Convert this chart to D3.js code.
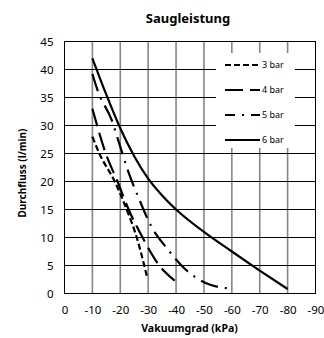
<!DOCTYPE html>
<html>
<head>
<meta charset="utf-8">
<script src="https://cdn.jsdelivr.net/npm/d3@7"></script>
<style>
  body { margin: 0; background: #fff; }
  text { font-family: "Noto Sans", sans-serif; fill: #000; }
</style>
</head>
<body>
<script>
// data: [vacuum kPa, flow l/min]
const xTicks = [0, -10, -20, -30, -40, -50, -60, -70, -80, -90];
const yTicks = [0, 5, 10, 15, 20, 25, 30, 35, 40, 45];
const seriesNames = ["3 bar", "4 bar", "5 bar", "6 bar"];
const bar3 = [[-10, 28], [-12.5, 25], [-18, 20], [-22.3, 15], [-25.9, 10], [-28.6, 5], [-29.7, 2.7]];
const bar4 = [[-10, 33], [-14.8, 25], [-19, 20], [-23, 15], [-28, 10], [-34, 5], [-39.5, 2.3]];
const bar5 = [[-10, 39.2], [-12.2, 35.8], [-16.9, 31], [-19.5, 27], [-23, 21.6], [-26.8, 16.8],
    [-31, 12.1], [-37, 7.9], [-43.6, 4.2], [-52, 1.6], [-59, 0.9]];
const bar6 = [[-10, 42], [-15, 35.5], [-20, 29.5], [-25, 24.5], [-30, 20.5], [-35, 17.5], [-40, 15],
    [-50, 11], [-60, 7.5], [-70, 4.1], [-80, 0.8]];

window.onload = function () {
    const width = 324, height = 338;
    const margin = {top: 41.5, right: 8.5, bottom: 44.5, left: 64.5};

    const svg = d3.select("body").append("svg")
        .attr("width", width)
        .attr("height", height);

    const x = d3.scaleLinear()
        .domain([0, -90])
        .range([margin.left, width - margin.right]);

    const y = d3.scaleLinear()
        .domain([0, 45])
        .range([height - margin.bottom, margin.top]);

    // vertical grid (gray)
    svg.append("g")
        .selectAll("line")
        .data(xTicks.slice(1, -1))
        .join("line")
        .attr("x1", d => x(d)).attr("x2", d => x(d))
        .attr("y1", y(0)).attr("y2", y(45))
        .attr("stroke", "#868686")
        .attr("stroke-width", 1.6);

    // horizontal grid (black)
    svg.append("g")
        .selectAll("line")
        .data(yTicks.slice(1, -1))
        .join("line")
        .attr("x1", x(0)).attr("x2", x(-90))
        .attr("y1", d => y(d)).attr("y2", d => y(d))
        .attr("stroke", "#000")
        .attr("stroke-width", 1);

    svg.append("rect")
        .attr("x", x(0)).attr("y", y(45))
        .attr("width", x(-90) - x(0))
        .attr("height", y(0) - y(45))
        .attr("fill", "none")
        .attr("stroke", "#000")
        .attr("stroke-width", 1);

    // axes labels
    const yAxis = svg.append("g")
        .attr("transform", `translate(${x(0)},0)`)
        .call(d3.axisLeft(y).tickValues(yTicks).tickSize(0).tickPadding(11));
    yAxis.select(".domain").remove();
    yAxis.selectAll("text")
        .style("font-size", "11.5px")
        .style("font-family", "Noto Sans");

    const xAxis = svg.append("g")
        .attr("transform", `translate(0,${y(0)})`)
        .call(d3.axisBottom(x).tickValues(xTicks).tickSize(0).tickPadding(12));
    xAxis.select(".domain").remove();
    xAxis.selectAll("text")
        .style("font-size", "11.5px")
        .style("font-family", "Noto Sans")
        .text(d => d === 0 ? "0" : "-" + Math.abs(d));

    const styles = [
        {data: bar3, dash: "6,3"},
        {data: bar4, dash: "18,7"},
        {data: bar5, dash: "18,7,2,7"},
        {data: bar6, dash: null}
    ];

    const line = d3.line()
        .x(d => x(d[0]))
        .y(d => y(d[1]))
        .curve(d3.curveMonotoneX);

    svg.append("g")
        .selectAll("path")
        .data(styles)
        .join("path")
        .attr("d", d => line(d.data))
        .attr("fill", "none")
        .attr("stroke", "#000")
        .attr("stroke-width", 2.2)
        .attr("stroke-dasharray", d => d.dash);

    // legend
    const legend = svg.append("g");
    legend.append("rect")
        .attr("x", 216).attr("y", 53)
        .attr("width", 79).attr("height", 95)
        .attr("fill", "#fff");

    const item = legend.selectAll("g")
        .data(styles)
        .join("g")
        .attr("transform", (d, i) => `translate(225,${65 + i * 25})`);

    item.append("line")
        .attr("x1", 0).attr("x2", 35)
        .attr("stroke", "#000")
        .attr("stroke-width", 2.2)
        .attr("stroke-dasharray", d => d.dash)
        .attr("stroke-dashoffset", (d, i) => i === 2 ? 8 : 0);

    item.append("text")
        .attr("x", 37)
        .attr("dy", "0.35em")
        .style("font-size", "9px")
        .text((d, i) => seriesNames[i]);

    // titles
    svg.append("text")
        .attr("x", 188).attr("y", 23)
        .attr("text-anchor", "middle")
        .style("font-size", "13px")
        .style("font-weight", "bold")
        .text("Saugleistung");

    svg.append("text")
        .attr("x", 189.5).attr("y", 332)
        .attr("text-anchor", "middle")
        .style("font-size", "10.5px")
        .style("font-weight", "bold")
        .text("Vakuumgrad (kPa)");

    svg.append("text")
        .attr("transform", "translate(26,173) rotate(-90)")
        .attr("text-anchor", "middle")
        .style("font-size", "10px")
        .style("font-weight", "bold")
        .text("Durchfluss (l/min)");
}
</script>
</body>
</html>
